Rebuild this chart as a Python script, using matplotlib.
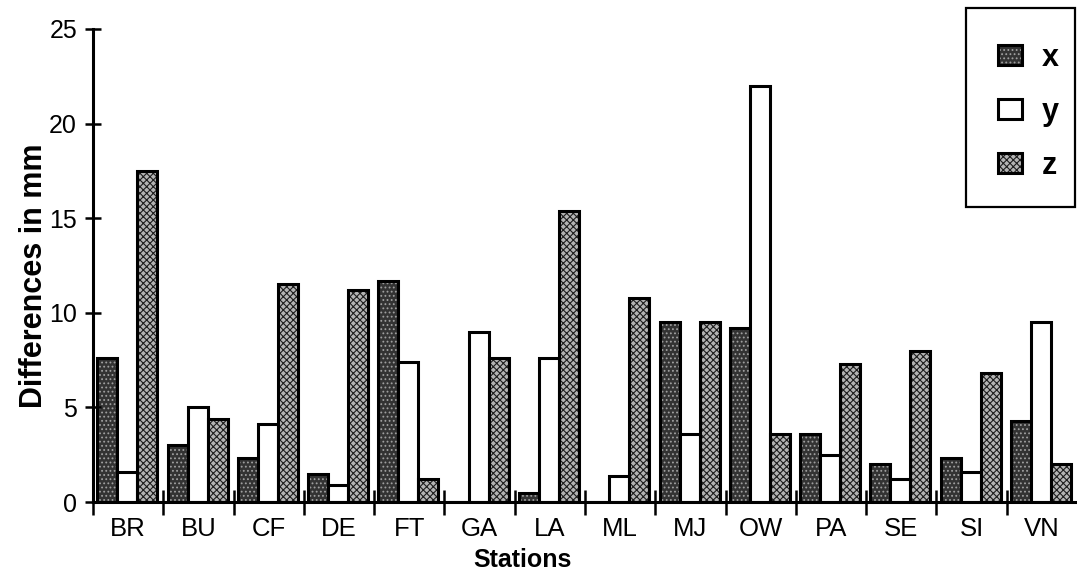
import matplotlib
matplotlib.use('Agg')
import matplotlib.pyplot as plt
import numpy as np
from matplotlib.patches import Rectangle

stations = ['BR', 'BU', 'CF', 'DE', 'FT', 'GA', 'LA', 'ML', 'MJ', 'OW',
            'PA', 'SE', 'SI', 'VN']
diff_x = [7.6, 3.0, 2.3, 1.5, 11.7, 0.0, 0.5, 0.0, 9.5, 9.2, 3.6, 2.0, 2.3, 4.3]
diff_y = [1.6, 5.0, 4.1, 0.9, 7.4, 9.0, 7.6, 1.4, 3.6, 22.0, 2.5, 1.2, 1.6, 9.5]
diff_z = [17.5, 4.4, 11.5, 11.2, 1.2, 7.6, 15.4, 10.8, 9.5, 3.6, 7.3, 8.0, 6.8, 2.0]
series_labels = ['x', 'y', 'z']
yticks = [0, 5, 10, 15, 20, 25]

plt.rcParams['font.family'] = ['Liberation Sans', 'DejaVu Sans']
plt.rcParams['hatch.linewidth'] = 0.8

W, H = 1077, 572
fig = plt.figure(figsize=(W / 100, H / 100), dpi=100)
ax = fig.add_axes([93 / W, 1 - 502 / H, (W - 93) / W, (502 - 29) / H])

pos = np.arange(len(stations))
bw = 0.285
styles = [
    (diff_x, 0.06, dict(facecolor='#333333', hatch='....', edgecolor='#a0a0a0')),
    (diff_y, 0.06 + bw, dict(facecolor='white', edgecolor='white')),
    (diff_z, 0.06 + 2 * bw, dict(facecolor='#b4b4b4', hatch='xxxxx', edgecolor='#1e1e1e')),
]
handles = []
for vals, off, st in styles:
    fill = ax.bar(pos + off, vals, bw, align='edge', linewidth=0, **st)
    edge = ax.bar(pos + off, vals, bw, align='edge', fill=False,
                  edgecolor='black', linewidth=2.2)
    handles.append((fill, edge))

ax.set_xlim(0, len(stations))
ax.set_ylim(0, 25)
for side in ['top', 'right']:
    ax.spines[side].set_visible(False)
for side in ['left', 'bottom']:
    ax.spines[side].set_linewidth(2.2)

# separators between stations are the major ticks, names sit on minor ticks
ax.set_xticks(np.arange(0, len(stations)))
ax.set_xticklabels([])
ax.set_xticks(pos + 0.5, minor=True)
ax.set_xticklabels(stations, minor=True)
ax.tick_params(axis='x', which='major', direction='inout', length=18, width=1.8)
ax.tick_params(axis='x', which='minor', length=0, pad=11, labelsize=18.5)
ax.set_yticks(yticks)
ax.tick_params(axis='y', direction='inout', length=11, width=1.8, pad=6, labelsize=18)

fig.text(522 / W, 1 - 567 / H, 'Stations', ha='center', va='baseline',
         fontsize=18, fontweight='bold')
fig.text(42 / W, 1 - 276 / H, 'Differences in mm', rotation=90,
         rotation_mode='anchor', ha='center', va='baseline',
         fontsize=22, fontweight='bold')

fig.legend(handles, series_labels, loc='upper left',
           bbox_to_anchor=(998 / W, 1 - 43 / H), frameon=False,
           borderpad=0, borderaxespad=0, handlelength=0.8, handleheight=0.62,
           handletextpad=0.62, labelspacing=0.78,
           prop=dict(weight='bold', size=22))
fig.add_artist(Rectangle((966 / W, 1 - 207 / H), (1075 - 966) / W, (207 - 8) / H,
                         transform=fig.transFigure, fill=False, lw=1.6,
                         edgecolor='black'))

fig.savefig('out.png', dpi=100)
